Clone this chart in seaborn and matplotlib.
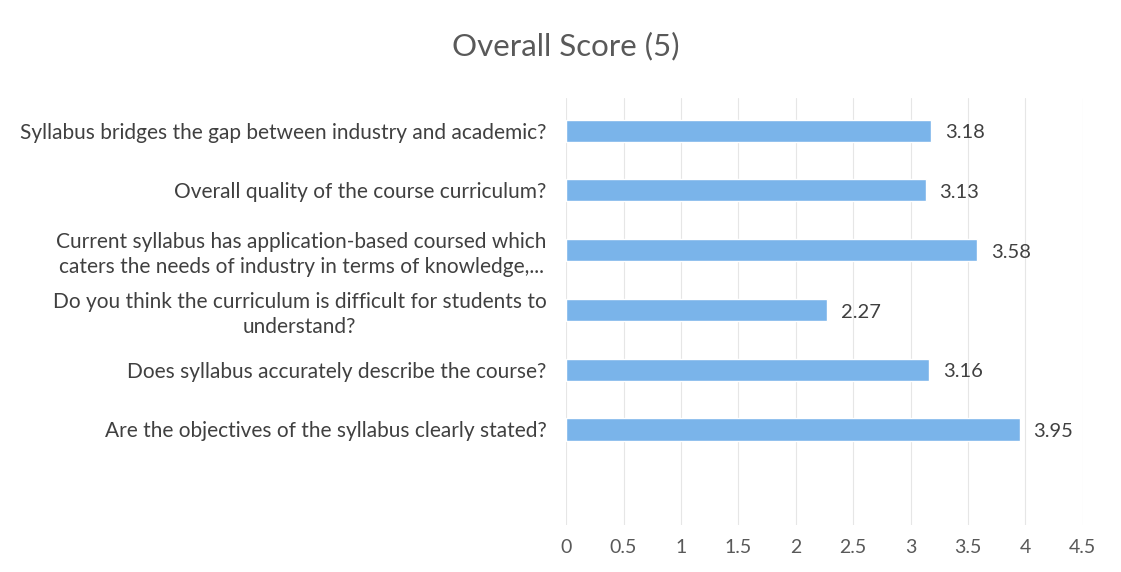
import numpy as np
import pandas as pd
import matplotlib.pyplot as plt
import seaborn as sns

# Survey questions (top to bottom) and their mean scores
questions = [
    "Syllabus bridges the gap between industry and academic?",
    "Overall quality of the course curriculum?",
    "Current syllabus has application-based coursed which\ncaters the needs of industry in terms of knowledge,...",
    "Do you think the curriculum is difficult for students to\nunderstand?",
    "Does syllabus accurately describe the course?",
    "Are the objectives of the syllabus clearly stated?",
]
scores = [3.18, 3.13, 3.58, 2.27, 3.16, 3.95]
xticks = [0, 0.5, 1, 1.5, 2, 2.5, 3, 3.5, 4, 4.5]

df = pd.DataFrame({"question": questions, "score": scores})

sns.set_style("white")
plt.rcParams['font.family'] = ['Lato', 'DejaVu Sans']

fig = plt.figure(figsize=(11.21, 5.72), dpi=100)
ax = fig.add_axes([0.505, 0.082, 0.461, 0.747])

sns.barplot(data=df, x="score", y="question", color="#7ab4ea", width=0.37,
            saturation=1, ax=ax)

# Value labels next to bar ends
for i, v in enumerate(scores):
    ax.annotate(f"{v:.2f}", (v, i), xytext=(10, -1.5), textcoords="offset points",
                va="center", ha="left", fontsize=14.5, color="#404040")

ax.set_xlim(0, 4.5)
ax.set_ylim(6.6, -0.55)
ax.set_xticks(xticks)
ax.set_xticklabels([f"{t:g}" for t in xticks], fontsize=14, color="#595959")
ax.tick_params(axis="y", labelsize=15, labelcolor="#404040", length=0, pad=14)
ax.tick_params(axis="x", length=0, pad=10)
for lbl in ax.get_yticklabels():
    lbl.set_multialignment("center")
    lbl.set_linespacing(1.3)
ax.set_xlabel("")
ax.set_ylabel("")
ax.xaxis.grid(True, color="#e6e6e6", linewidth=0.8)
ax.set_axisbelow(True)
for s in ax.spines.values():
    s.set_visible(False)

fig.suptitle("Overall Score (5)", x=0.505, y=0.945, fontsize=22.5, color="#595959")

plt.savefig("out.png", dpi=100)
